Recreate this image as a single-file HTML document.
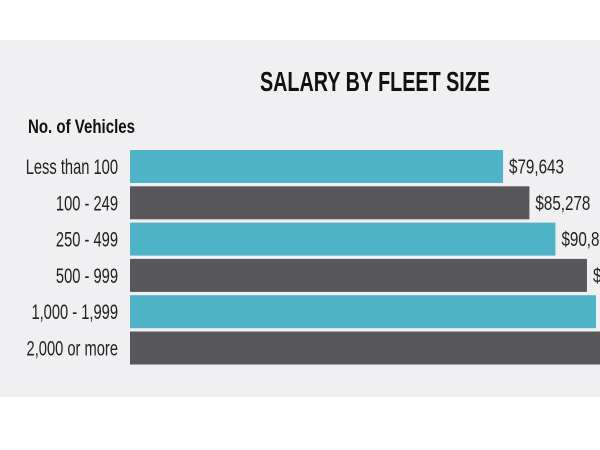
<!DOCTYPE html>
<html><head><meta charset="utf-8"><style>
html,body{margin:0;padding:0;background:#fff;}
svg{display:block;font-family:"Liberation Sans Narrow","Liberation Sans",sans-serif;}
</style></head><body>
<svg width="600" height="450" id="chart">
<rect x="0" y="40" width="600" height="357" fill="#f0f0f2"/>
<text x="375" y="91" text-anchor="middle" font-size="28" font-weight="bold" fill="#111" textLength="230" lengthAdjust="spacingAndGlyphs">SALARY BY FLEET SIZE</text>
<text x="28" y="133" font-size="19" font-weight="bold" fill="#111" textLength="107" lengthAdjust="spacingAndGlyphs">No. of Vehicles</text>
<g id="bars"></g>
</svg>
<script>
const categories = ["Less than 100","100 - 249","250 - 499","500 - 999","1,000 - 1,999","2,000 or more"];
const values = [79643, 85278, 90832, 97560, 99487, 106000];
const valueLabels = ["$79,643","$85,278","$90,832","$97,560","$99,487","$106,000"];
const colors = ["#4fb3c8","#58585a"];
const x0 = 130, pxPer = 1/213.5;
const bandTop = 150, band = 36.3, barH = 33;
const xs = v => x0 + v*pxPer;
const ys = i => bandTop + i*band;
const g = document.getElementById('bars');
const NS = "http://www.w3.org/2000/svg";
categories.forEach((c,i)=>{
  const r = document.createElementNS(NS,'rect');
  r.setAttribute('x',x0); r.setAttribute('y',ys(i));
  r.setAttribute('width',xs(values[i])-x0); r.setAttribute('height',barH);
  r.setAttribute('fill',colors[i%2]);
  
  
  g.appendChild(r);
  const t = document.createElementNS(NS,'text');
  t.setAttribute('transform','translate(118,'+(ys(i)+barH/2+7.5)+') scale(0.7,1)');
  t.setAttribute('text-anchor','end'); t.setAttribute('font-size','21'); t.setAttribute('fill','#222');
  t.textContent = c;
  
  
  g.appendChild(t);
  const v = document.createElementNS(NS,'text');
  v.setAttribute('transform','translate('+(xs(values[i])+6)+','+(ys(i)+barH/2+7)+') scale(0.76,1)');
  v.setAttribute('font-size','20'); v.setAttribute('fill','#222');
  v.textContent = valueLabels[i];
  
  
  g.appendChild(v);
});
</script>
</body></html>
